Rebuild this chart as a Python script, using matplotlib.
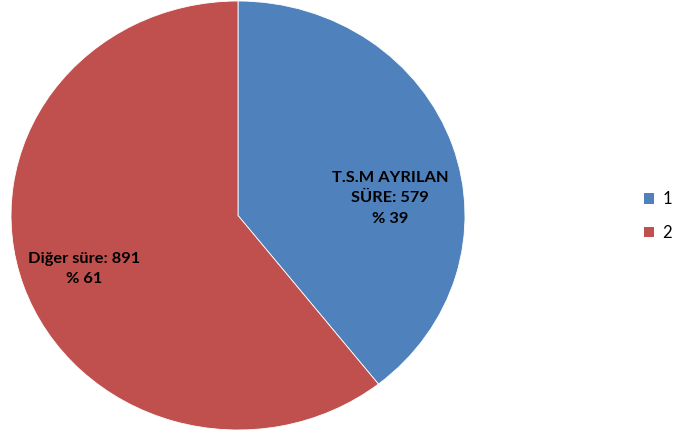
import matplotlib
matplotlib.use("Agg")
import matplotlib.pyplot as plt
from matplotlib.patches import Patch

categories = ["1", "2"]
values = [579, 891]
labels = ["T.S.M AYRILAN\nSÜRE: 579\n% 39", "Diğer süre: 891\n% 61"]
colors = ["#4F81BD", "#C0504D"]

W, H = 675, 437
fig = plt.figure(figsize=(W / 100, H / 100), dpi=100)
# pie box in pixels: left 11, right 465, top 1, bottom 430
l, r, t, b = 11, 465, 1, 430
ax = fig.add_axes([l / W, 1 - b / H, (r - l) / W, (b - t) / H])
wedges, _ = ax.pie(values, colors=colors, startangle=90, counterclock=False,
                   radius=1, center=(0, 0),
                   wedgeprops=dict(edgecolor="white", linewidth=0.6))
ax.set_aspect("auto")
ax.set_xlim(-1, 1)
ax.set_ylim(-1, 1)
ax.axis("off")

font = dict(family=["Lato", "DejaVu Sans"], fontsize=11.8, fontweight="bold",
            color="black", ha="center", va="center", linespacing=1.6)
ax.text(0.67, 0.08, labels[0], **font)
ax.text(-0.68, -0.25, labels[1], **font)

handles = [Patch(facecolor=c, edgecolor="none") for c in colors]
leg = fig.legend(handles, categories, loc="center left",
                 bbox_to_anchor=(644 / W, 1 - 216 / H), frameon=False,
                 borderaxespad=0, borderpad=0,
                 prop=dict(family="Lato", size=12),
                 handlelength=0.6, handleheight=0.6, handletextpad=0.5,
                 labelspacing=1.05)

fig.savefig("out.png", dpi=100)
